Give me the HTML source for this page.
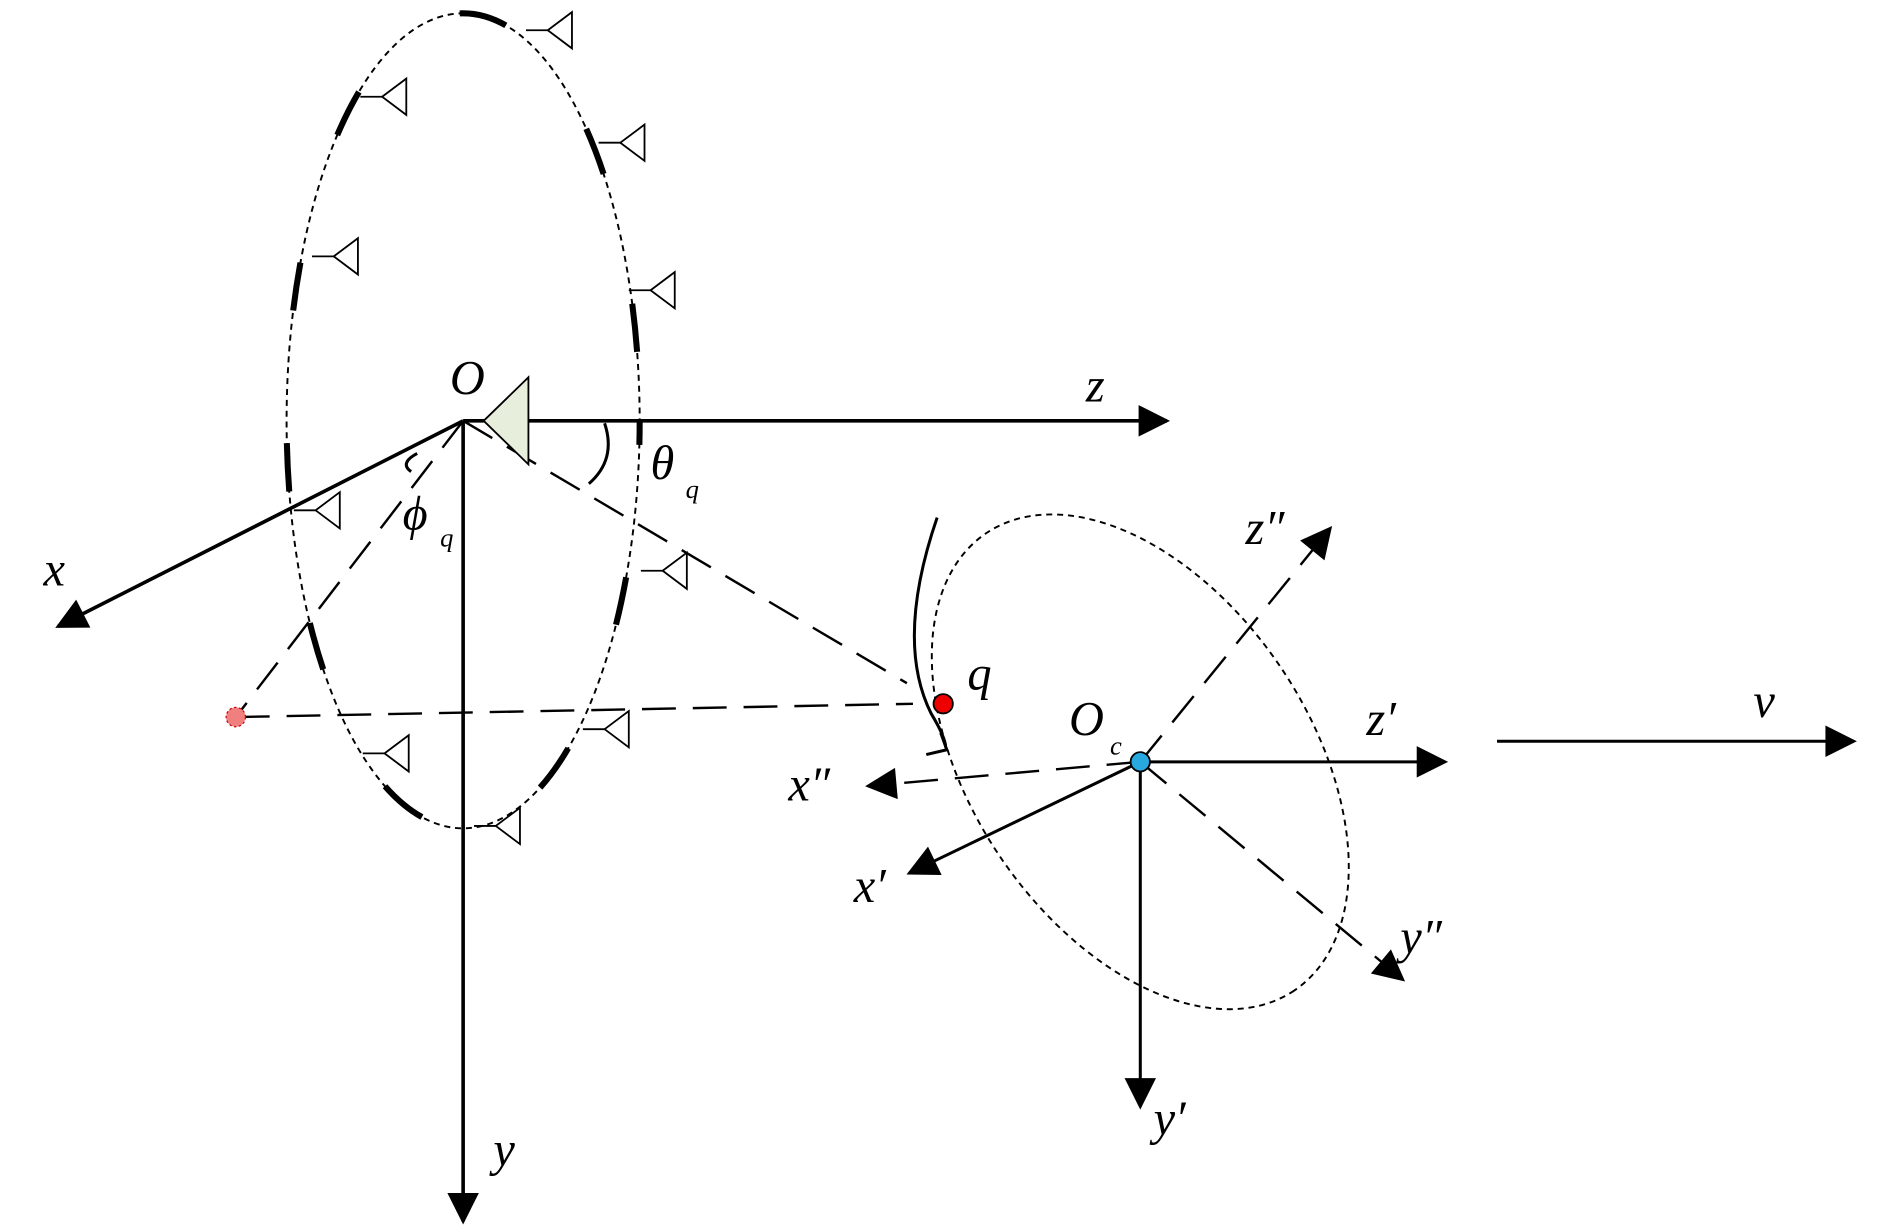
<!DOCTYPE html>
<html><head><meta charset="utf-8"><style>html,body{margin:0;padding:0;background:#fff}svg{display:block}</style></head><body>
<svg width="1890" height="1228" viewBox="0 0 1563 1015.5" xmlns="http://www.w3.org/2000/svg" font-family="Liberation Serif, serif" font-style="italic">
<defs>
<marker id="a2" viewBox="0 0 10 10" refX="9" refY="5" markerWidth="30" markerHeight="26" markerUnits="userSpaceOnUse" orient="auto"><path d="M0,0 L10,5 L0,10 z"/></marker>
<g id="ant"><line x1="0" y1="0" x2="18" y2="0" stroke="#000" stroke-width="1.5"/><path d="M18,0 L38,-15 L38,15 z" fill="#fff" stroke="#000" stroke-width="1.5"/></g>
</defs>
<g fill="none" stroke="#000">
<ellipse cx="383" cy="348" rx="146" ry="337" stroke-width="1.6" stroke-dasharray="5,4"/>
<ellipse cx="383" cy="348" rx="146" ry="337" stroke-width="5" stroke-dasharray="40,110" stroke-dashoffset="20"/>
<line x1="383" y1="348" x2="965" y2="348" stroke-width="3" marker-end="url(#a2)"/>
<line x1="383" y1="348" x2="48" y2="518" stroke-width="3" marker-end="url(#a2)"/>
<line x1="383" y1="348" x2="383" y2="1010" stroke-width="3" marker-end="url(#a2)"/>
<line x1="383" y1="348" x2="750" y2="565" stroke-width="2" stroke-dasharray="28,14"/>
<line x1="383" y1="348" x2="195" y2="593" stroke-width="2" stroke-dasharray="28,14"/>
<line x1="195" y1="593" x2="755" y2="582" stroke-width="2" stroke-dasharray="28,14"/>
<path d="M487,400 Q510,380 500,350" stroke-width="2.5"/>
<path d="M345,375 Q330,383 340,390" stroke-width="2.5"/>
<path d="M775,428 Q740,530 770,590 Q782,610 782,618" stroke-width="2.5"/>
<path d="M766,624 L783,620 L778,606" stroke-width="2.5"/>
<ellipse cx="943" cy="630" rx="228" ry="140" transform="rotate(56 943 630)" stroke-width="1.6" stroke-dasharray="5,4"/>
<line x1="943" y1="630" x2="1195" y2="630" stroke-width="2.5" marker-end="url(#a2)"/>
<line x1="943" y1="630" x2="943" y2="915" stroke-width="2.5" marker-end="url(#a2)"/>
<line x1="943" y1="630" x2="752" y2="722" stroke-width="2.5" marker-end="url(#a2)"/>
<line x1="943" y1="630" x2="1100" y2="437" stroke-width="2" stroke-dasharray="28,14" marker-end="url(#a2)"/>
<line x1="943" y1="630" x2="1160" y2="810" stroke-width="2" stroke-dasharray="28,14" marker-end="url(#a2)"/>
<line x1="943" y1="630" x2="718" y2="650" stroke-width="2" stroke-dasharray="28,14" marker-end="url(#a2)"/>
<line x1="1238" y1="613" x2="1533" y2="613" stroke-width="2.5" marker-end="url(#a2)"/>
</g>
<use href="#ant" transform="translate(435,25)"/>
<use href="#ant" transform="translate(298,80)"/>
<use href="#ant" transform="translate(495,118)"/>
<use href="#ant" transform="translate(258,212)"/>
<use href="#ant" transform="translate(520,240)"/>
<use href="#ant" transform="translate(243,422)"/>
<use href="#ant" transform="translate(530,472)"/>
<use href="#ant" transform="translate(482,603)"/>
<use href="#ant" transform="translate(300,623)"/>
<use href="#ant" transform="translate(392,683)"/>
<path d="M400,348 L437,312 L437,384 z" fill="#e8eedc" stroke="#000" stroke-width="1.5"/>
<circle cx="195" cy="593" r="8" fill="#f08080" stroke="#c00" stroke-width="1" stroke-dasharray="2,2"/>
<circle cx="780" cy="582" r="8" fill="#e00" stroke="#000" stroke-width="1.5"/>
<circle cx="943" cy="630" r="8" fill="#29a8e0" stroke="#000" stroke-width="1.5"/>
<g font-size="40">
<text x="372" y="326">O</text>
<text x="898" y="332">z</text>
<text x="36" y="484">x</text>
<text x="408" y="964">y</text>
<text x="538" y="396">θ</text><text x="567" y="412" font-size="22">q</text>
<text x="333" y="438">ϕ</text><text x="364" y="452" font-size="22">q</text>
<text x="800" y="570">q</text>
<text x="884" y="608">O</text><text x="918" y="624" font-size="22">c</text>
<text x="1130" y="608">z′</text>
<text x="1450" y="593">v</text>
<text x="1030" y="450">z″</text>
<text x="652" y="662">x″</text>
<text x="706" y="746">x′</text>
<text x="1158" y="788">y″</text>
<text x="954" y="938">y′</text>
</g>
</svg>
</body></html>
